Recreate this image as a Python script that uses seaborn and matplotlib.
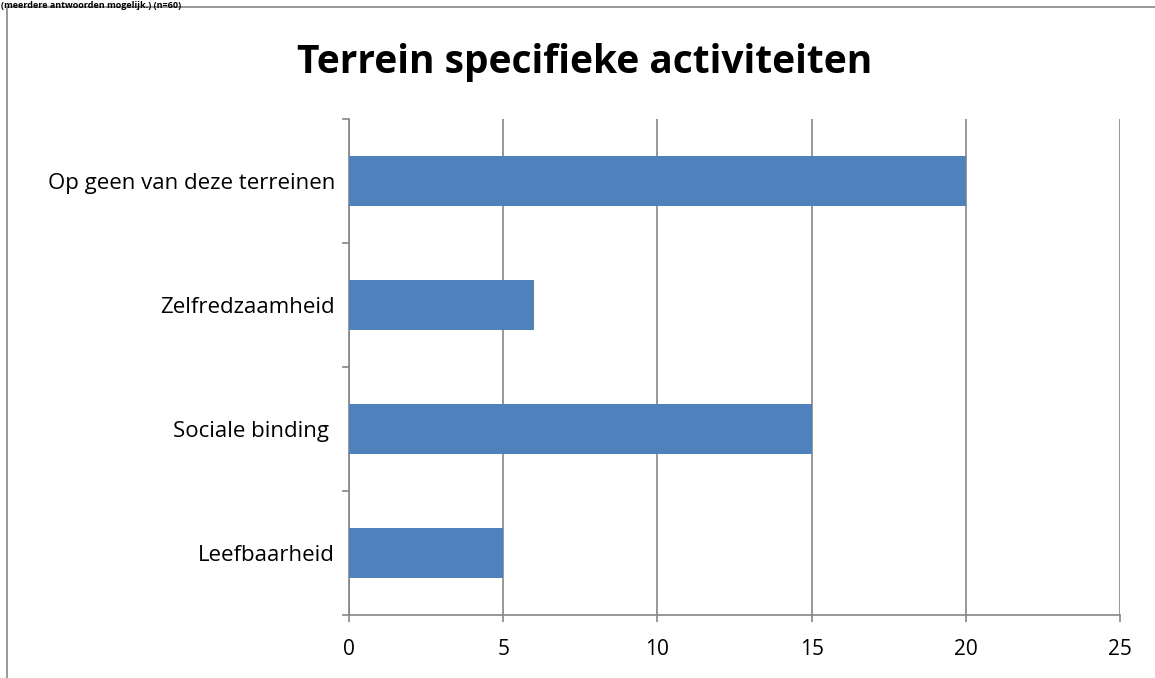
import matplotlib
matplotlib.use("Agg")
import matplotlib.pyplot as plt
import seaborn as sns
import pandas as pd
from matplotlib.patches import Rectangle

# data
categorieen = ["Op geen van deze terreinen", "Zelfredzaamheid", "Sociale binding ", "Leefbaarheid"]
aantallen = [20, 6, 15, 5]
x_ticks = [0, 5, 10, 15, 20, 25]

titel = "Terrein specifieke activiteiten"
kop = "(meerdere antwoorden mogelijk.) (n=60)"

df = pd.DataFrame({"Categorie": categorieen, "Aantal": aantallen})

sns.set_style("white")
plt.rcParams["font.family"] = ["Open Sans", "DejaVu Sans"]
plt.rcParams["text.color"] = "black"
plt.rcParams["xtick.color"] = "black"
plt.rcParams["ytick.color"] = "black"

fig = plt.figure(figsize=(11.55, 6.78), dpi=100)
ax = fig.add_axes([349 / 1155, 1 - 615 / 678, 771 / 1155, 496 / 678])

sns.barplot(data=df, y="Categorie", x="Aantal", order=categorieen, orient="h",
            color="#4F81BD", saturation=1, width=0.4, linewidth=0, ax=ax, zorder=3)

ax.set_xlim(0, 25)
ax.set_ylim(3.5, -0.5)
ax.set_xticks(x_ticks)
ax.set_xlabel("")
ax.set_ylabel("")
ax.grid(axis="x", color="#868686", linewidth=1.2, zorder=0)
ax.grid(axis="y", visible=False)

# category ticks sit at the boundaries, as in Excel
ax.set_yticks([-0.5, 0.5, 1.5, 2.5, 3.5], minor=True)
ax.tick_params(axis="y", which="major", length=0, pad=10, labelsize=16)
ax.tick_params(axis="y", which="minor", length=5, width=1.2, color="#868686", left=True)
ax.tick_params(axis="x", which="major", length=5, width=1.2, color="#868686", bottom=True,
               pad=12, labelsize=15)

for side in ["top", "right"]:
    ax.spines[side].set_visible(False)
for side in ["left", "bottom"]:
    ax.spines[side].set_color("#868686")
    ax.spines[side].set_linewidth(1.2)

fig.text(585 / 1155, 1 - 62 / 678, titel, ha="center", va="center",
         fontsize=28, fontweight="bold")

# outer chart border and small header text above it
fig.patches.append(Rectangle((7 / 1155, -0.1), 1.2, 1 - 7 / 678 + 0.1,
                             transform=fig.transFigure, fill=False,
                             edgecolor="#868686", linewidth=1.2))
fig.text(1 / 1155, 1 - 1 / 678, kop, ha="left", va="top", fontsize=6.5, fontweight="bold")

fig.savefig("out.png", dpi=100)
